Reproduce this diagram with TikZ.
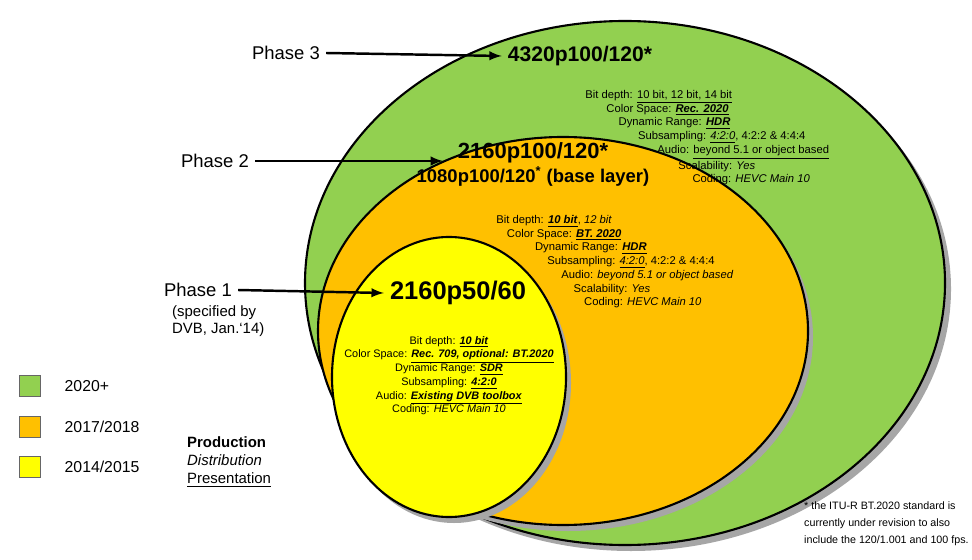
\documentclass[tikz,border=0pt]{standalone}
\usepackage{fontspec}
\setmainfont{Liberation Sans}
\usepackage{xcolor}
\usetikzlibrary{positioning}
\definecolor{phasethree}{RGB}{146,208,80}
\definecolor{phasetwo}{RGB}{255,192,0}
\definecolor{phaseone}{RGB}{255,255,0}
\newcommand{\ul}[1]{\underline{#1}}
\newcommand{\ind}[1]{\hspace*{#1pt}}
\tikzset{
  ring/.style={draw=black,line width=1.2pt},
  phase/.style={font=\fontsize{10.5}{12}\selectfont},
  title/.style={font=\fontsize{12.5}{14}\selectfont\bfseries},
  specs/.style={font=\fontsize{6.4}{7.8}\selectfont,align=left,inner sep=0pt},
  pointer/.style={-latex,line width=1.4pt},
  legbox/.style={draw=black!60,minimum width=12pt,minimum height=12pt}
}
\begin{document}
\begin{tikzpicture}[x=0.02cm,y=-0.02cm]
  \useasboundingbox (0,0) rectangle (972,560);
  % the three rings, with their shadows
  \fill[black!35] (631,289) ellipse [x radius=320,y radius=262];
  \draw[ring,fill=phasethree] (625,283) ellipse [x radius=320,y radius=262];
  \fill[black!35] (568,337) ellipse [x radius=245,y radius=194];
  \draw[ring,fill=phasetwo] (563,331) ellipse [x radius=245,y radius=194];
  \fill[black!35] (454,383) ellipse [x radius=117,y radius=140];
  \draw[ring,fill=phaseone] (449,377) ellipse [x radius=117,y radius=140];

  % titles
  \node[title,font=\fontsize{12}{14}\selectfont\bfseries] (t3) at (580,56) {4320p100/120*};
  \node[title] (t2) at (533,153) {2160p100/120*};
  \node[font=\fontsize{10.5}{12}\selectfont\bfseries] (t2b) at (533,176) {1080p100/120\textsuperscript{*} (base layer)};
  \node[title,font=\fontsize{14.5}{17}\selectfont\bfseries] (t1) at (458,293) {2160p50/60};

  % phases
  \node[phase] (p3) at (286,53) {Phase 3};
  \node[phase] (p2) at (215,161) {Phase 2};
  \node[phase] (p1) at (198,290) {Phase 1};
  \node[font=\fontsize{8.5}{10}\selectfont,align=left,anchor=north west] (p1b) at (166,299) {(specified by\\ DVB, Jan.`14)};
  \draw[pointer] (p3.east) -- (t3.west);
  \draw[pointer,shorten >=5] (p2.east) -- (t2.west |- p2.east);
  \draw[pointer] (p1.east) -- (t1.west);

  % specifications
  \node[specs,anchor=north west] (s3) at (585,90) {
    Bit depth: \ul{10 bit, 12 bit, 14 bit}\\
    \ind{12}Color Space: \ul{\textbf{\textit{Rec. 2020}}}\\
    \ind{19}Dynamic Range: \ul{\textbf{\textit{HDR}}}\\
    \ind{30}Subsampling: \ul{\textit{4:2:0}}, 4:2:2 \& 4:4:4\\
    \ind{41}Audio: \ul{beyond 5.1 or object based}\\
    \ind{53}Scalability: \textit{Yes}\\
    \ind{61}Coding: \textit{HEVC Main 10}};
  \node[specs,anchor=north west] (s2) at (496,215) {
    Bit depth: \ul{\textbf{\textit{10 bit}}}, \textit{12 bit}\\
    \ind{6}Color Space: \ul{\textbf{\textit{BT. 2020}}}\\
    \ind{22}Dynamic Range: \ul{\textbf{\textit{HDR}}}\\
    \ind{29}Subsampling: \ul{\textit{4:2:0}}, 4:2:2 \& 4:4:4\\
    \ind{37}Audio: \textit{beyond 5.1 or object based}\\
    \ind{44}Scalability: \textit{Yes}\\
    \ind{50}Coding: \textit{HEVC Main 10}};
  \node[specs,align=center,anchor=north,font=\fontsize{6.2}{7.8}\selectfont] (s1) at (449,336) {
    Bit depth: \ul{\textbf{\textit{10 bit}}}\\
    Color Space: \ul{\textbf{\textit{Rec. 709, optional: BT.2020}}}\\
    Dynamic Range: \ul{\textbf{\textit{SDR}}}\\
    Subsampling: \ul{\textbf{\textit{4:2:0}}}\\
    Audio: \ul{\textbf{\textit{Existing DVB toolbox}}}\\
    Coding: \textit{HEVC Main 10}};

  % legend
  \node[legbox,fill=phasethree] (l3) at (30,386) {};
  \node[legbox,fill=phasetwo] (l2) at (30,427) {};
  \node[legbox,fill=phaseone] (l1) at (30,467) {};
  \node[font=\fontsize{9}{11}\selectfont,right=10pt of l3] {2020+};
  \node[font=\fontsize{9}{11}\selectfont,right=10pt of l2] {2017/2018};
  \node[font=\fontsize{9}{11}\selectfont,right=10pt of l1] {2014/2015};
  \node[font=\fontsize{8.5}{10.5}\selectfont,align=left,anchor=north west] (lk) at (181,430) {
    \textbf{Production}\\ \textit{Distribution}\\ \ul{Presentation}};

  % footnote
  \node[font=\fontsize{6.1}{9.4}\selectfont,align=left,anchor=north west] (fn) at (798,496) {
    * the ITU-R BT.2020 standard is\\ currently under revision to also\\ include the 120/1.001 and 100 fps.};
\end{tikzpicture}
\end{document}
